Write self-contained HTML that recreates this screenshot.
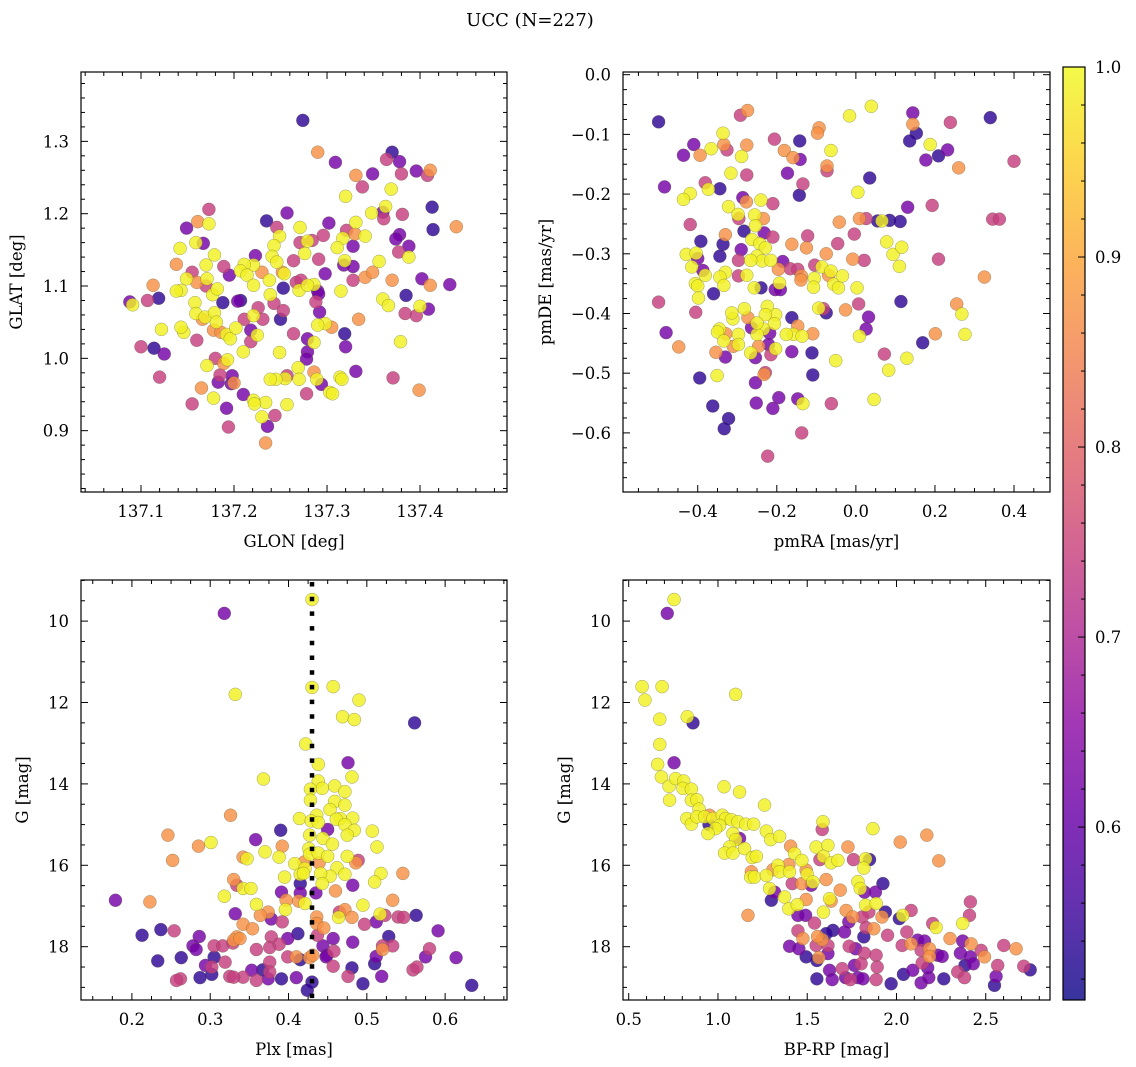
<!DOCTYPE html>
<html><head><meta charset="utf-8">
<style>
html,body{margin:0;padding:0;background:#fff;}
svg{display:block;font-family:"DejaVu Serif","Liberation Serif",serif;}
</style></head>
<body>
<svg id="fig" width="1136" height="1067" viewBox="0 0 1136 1067" xmlns="http://www.w3.org/2000/svg">
<text x="530" y="26" font-size="18" text-anchor="middle">UCC (N=227)</text>
</svg>
<script>
// ---- Panel 1: GLON vs GLAT ----
const p1Glon = [137.274,137.290,137.370,137.364,137.378,137.309,137.396,137.411,137.408,137.380,
137.349,137.331,137.338,137.369,137.320,137.363,137.360,137.361,137.348,137.381,
137.413,137.414,137.439,137.257,137.235,137.246,137.271,137.302,137.321,137.331,
137.330,137.341,137.317,137.378,137.374,137.388,137.377,137.388,137.328,137.311,
137.319,137.356,137.318,137.328,137.298,137.291,137.296,137.284,137.279,137.276,
137.271,137.264,137.252,137.254,137.249,137.243,137.241,137.246,137.223,137.221,
137.230,137.211,137.207,137.214,137.221,137.238,137.253,137.267,137.270,137.286,
137.290,137.315,137.328,137.341,137.349,137.370,137.402,137.411,137.432,137.385,
137.360,137.366,137.400,137.409,137.396,137.384,137.379,137.371,137.399,137.331,
137.314,137.316,137.319,137.320,137.334,137.305,137.298,137.290,137.292,137.288,
137.291,137.279,137.272,137.239,137.243,137.253,137.250,137.231,137.226,137.221,
137.207,137.204,137.188,137.195,137.189,137.179,137.170,137.167,137.159,137.149,
137.161,137.173,137.173,137.142,137.138,137.155,137.149,137.160,137.171,137.177,
137.182,137.170,137.143,137.138,137.113,137.119,137.107,137.088,137.091,137.158,
137.159,137.166,137.169,137.179,137.181,137.178,137.186,137.192,137.196,137.202,
137.211,137.218,137.218,137.225,137.210,137.249,137.264,137.279,137.286,137.279,
137.278,137.269,137.286,137.289,137.294,137.303,137.306,137.278,137.270,137.257,
137.255,137.245,137.239,137.257,137.234,137.221,137.222,137.210,137.200,137.197,
137.198,137.185,137.183,137.180,137.193,137.189,137.171,137.160,137.146,137.143,
137.122,137.100,137.114,137.125,137.120,137.165,137.178,137.155,137.192,137.194,
137.230,137.236,137.244,137.234];
const p1Glat = [1.329,1.285,1.285,1.275,1.272,1.271,1.259,1.260,1.253,1.255,
1.255,1.253,1.237,1.234,1.224,1.210,1.202,1.193,1.201,1.199,
1.209,1.178,1.182,1.201,1.190,1.181,1.181,1.187,1.177,1.188,
1.172,1.169,1.166,1.171,1.165,1.155,1.147,1.140,1.155,1.153,
1.135,1.134,1.129,1.127,1.117,1.137,1.170,1.163,1.162,1.145,
1.160,1.135,1.119,1.117,1.169,1.156,1.141,1.133,1.142,1.129,
1.119,1.130,1.121,1.115,1.101,1.108,1.097,1.105,1.094,1.102,
1.093,1.093,1.108,1.112,1.119,1.108,1.110,1.101,1.102,1.087,
1.082,1.073,1.072,1.068,1.059,1.062,1.023,0.973,0.956,0.982,
0.974,0.971,1.034,1.016,1.054,1.043,1.048,1.046,1.064,1.078,
1.089,1.101,1.108,1.088,1.076,1.066,1.054,1.054,1.070,1.059,
1.080,1.079,1.077,1.115,1.127,1.143,1.129,1.159,1.160,1.180,
1.189,1.186,1.206,1.152,1.130,1.119,1.110,1.105,1.110,1.088,
1.096,1.100,1.094,1.093,1.101,1.083,1.080,1.078,1.074,1.077,
1.062,1.054,1.057,1.063,1.050,1.039,1.036,1.033,1.027,1.042,
1.054,1.039,1.023,1.032,1.009,1.008,1.034,1.027,1.022,1.009,
0.999,0.987,0.981,0.971,0.964,0.953,0.951,0.951,0.971,0.976,
0.972,0.971,0.971,0.936,0.939,0.942,0.937,0.950,0.966,0.965,
0.976,0.977,0.967,1.000,0.998,0.993,0.990,1.025,1.036,1.043,
1.040,1.016,1.014,1.006,0.974,0.959,0.945,0.937,0.931,0.905,
0.919,0.906,0.921,0.883];
const p1Prob = [0.54,0.87,0.54,0.74,0.62,0.62,0.62,0.87,0.74,0.74,
0.62,0.87,0.74,0.99,0.99,0.99,0.62,0.74,0.99,0.74,
0.54,0.54,0.87,0.62,0.54,0.74,0.99,0.62,0.74,0.99,
0.87,0.99,0.99,0.62,0.62,0.62,0.74,0.99,0.62,0.99,
0.99,0.99,0.62,0.62,0.62,0.74,0.74,0.74,0.99,0.99,
0.74,0.74,0.87,0.99,0.99,0.99,0.99,0.99,0.62,0.99,
0.87,0.99,0.99,0.99,0.99,0.99,0.54,0.74,0.99,0.99,
0.62,0.99,0.74,0.87,0.87,0.87,0.62,0.87,0.62,0.54,
0.99,0.99,0.99,0.62,0.74,0.74,0.99,0.74,0.87,0.62,
0.99,0.99,0.54,0.62,0.87,0.87,0.99,0.99,0.62,0.74,
0.62,0.99,0.74,0.99,0.74,0.74,0.54,0.74,0.74,0.99,
0.54,0.62,0.54,0.62,0.74,0.99,0.99,0.62,0.99,0.62,
0.87,0.99,0.74,0.99,0.87,0.74,0.99,0.87,0.99,0.99,
0.99,0.74,0.99,0.99,0.87,0.54,0.74,0.62,0.99,0.99,
0.99,0.87,0.99,0.99,0.99,0.87,0.87,0.99,0.99,0.99,
0.74,0.62,0.74,0.99,0.99,0.99,0.74,0.62,0.99,0.62,
0.62,0.99,0.87,0.99,0.62,0.99,0.99,0.74,0.99,0.74,
0.99,0.99,0.99,0.99,0.99,0.99,0.99,0.62,0.87,0.62,
0.62,0.74,0.62,0.74,0.99,0.87,0.99,0.74,0.99,0.99,
0.99,0.74,0.54,0.62,0.74,0.87,0.99,0.74,0.62,0.74,
0.99,0.62,0.74,0.87];

// ---- Panel 2: pmRA vs pmDE ----
const p2PmRA = [-0.499,-0.292,-0.274,0.039,-0.016,0.144,0.340,0.239,0.144,0.153,
0.136,0.188,0.209,0.232,0.177,0.260,0.400,0.035,0.005,-0.093,
-0.097,-0.063,-0.142,-0.206,-0.181,-0.159,-0.141,-0.073,-0.073,-0.173,
-0.134,-0.143,-0.210,-0.336,-0.334,-0.326,-0.276,-0.289,-0.366,-0.394,
-0.410,-0.436,-0.316,-0.276,-0.381,-0.373,-0.344,-0.484,-0.419,-0.436,
-0.286,-0.277,-0.240,-0.322,-0.298,-0.296,-0.256,-0.234,-0.254,-0.419,
-0.283,-0.232,-0.210,-0.330,-0.392,-0.336,-0.290,-0.263,-0.243,-0.229,
-0.250,-0.237,-0.215,-0.266,-0.297,-0.344,-0.429,-0.404,-0.400,-0.415,
-0.387,-0.381,-0.330,-0.344,-0.297,-0.276,-0.334,-0.406,-0.400,-0.398,
-0.360,-0.499,-0.405,-0.257,-0.240,-0.204,-0.191,-0.193,-0.185,-0.196,
-0.166,-0.147,-0.138,-0.139,-0.162,-0.122,-0.125,-0.104,-0.105,-0.107,
-0.086,-0.075,-0.069,-0.063,-0.056,-0.044,-0.034,-0.046,-0.042,-0.004,
-0.008,0.021,0.009,0.026,0.055,0.066,0.085,0.112,0.131,0.193,
0.346,0.363,0.078,0.094,0.116,0.110,0.209,0.325,0.003,0.007,
0.114,0.255,0.268,0.276,0.201,0.169,0.072,0.129,0.083,0.032,
0.026,0.009,-0.026,-0.075,-0.082,-0.094,-0.109,-0.111,-0.109,-0.051,
-0.062,0.046,-0.162,-0.147,-0.158,-0.176,-0.136,-0.162,-0.203,-0.206,
-0.224,-0.229,-0.218,-0.221,-0.203,-0.215,-0.234,-0.250,-0.250,-0.264,
-0.282,-0.273,-0.311,-0.314,-0.345,-0.329,-0.350,-0.297,-0.334,-0.310,
-0.297,-0.246,-0.266,-0.254,-0.354,-0.330,-0.480,-0.448,-0.395,-0.351,
-0.229,-0.232,-0.254,-0.362,-0.322,-0.333,-0.252,-0.210,-0.195,-0.147,
-0.134,-0.137,-0.223];
const p2PmDE = [-0.079,-0.068,-0.060,-0.053,-0.069,-0.064,-0.072,-0.080,-0.083,-0.098,
-0.111,-0.117,-0.136,-0.126,-0.143,-0.156,-0.145,-0.173,-0.197,-0.089,
-0.098,-0.127,-0.111,-0.108,-0.127,-0.139,-0.142,-0.153,-0.161,-0.165,
-0.183,-0.202,-0.216,-0.098,-0.117,-0.126,-0.118,-0.137,-0.124,-0.135,
-0.117,-0.135,-0.165,-0.168,-0.181,-0.192,-0.191,-0.188,-0.199,-0.209,
-0.206,-0.213,-0.210,-0.221,-0.234,-0.241,-0.235,-0.241,-0.253,-0.251,
-0.262,-0.265,-0.272,-0.268,-0.279,-0.284,-0.293,-0.276,-0.283,-0.290,
-0.304,-0.312,-0.311,-0.311,-0.311,-0.304,-0.301,-0.299,-0.308,-0.322,
-0.328,-0.336,-0.331,-0.339,-0.337,-0.336,-0.353,-0.350,-0.354,-0.374,
-0.367,-0.381,-0.398,-0.357,-0.357,-0.360,-0.360,-0.349,-0.313,-0.326,
-0.325,-0.326,-0.337,-0.344,-0.284,-0.270,-0.290,-0.319,-0.341,-0.356,
-0.322,-0.300,-0.336,-0.329,-0.351,-0.357,-0.337,-0.283,-0.247,-0.267,
-0.309,-0.311,-0.241,-0.241,-0.245,-0.245,-0.244,-0.246,-0.222,-0.219,
-0.242,-0.242,-0.280,-0.301,-0.289,-0.321,-0.309,-0.339,-0.357,-0.384,
-0.380,-0.384,-0.401,-0.435,-0.434,-0.449,-0.468,-0.475,-0.495,-0.406,
-0.426,-0.438,-0.394,-0.399,-0.392,-0.391,-0.434,-0.466,-0.503,-0.479,
-0.551,-0.544,-0.407,-0.421,-0.435,-0.435,-0.438,-0.464,-0.402,-0.417,
-0.388,-0.402,-0.433,-0.452,-0.459,-0.469,-0.426,-0.435,-0.416,-0.424,
-0.392,-0.407,-0.409,-0.399,-0.426,-0.434,-0.431,-0.435,-0.446,-0.455,
-0.452,-0.455,-0.466,-0.474,-0.465,-0.473,-0.432,-0.456,-0.508,-0.504,
-0.499,-0.502,-0.516,-0.555,-0.576,-0.593,-0.550,-0.559,-0.541,-0.543,
-0.551,-0.600,-0.639];
const p2Prob = [0.54,0.74,0.87,0.99,0.99,0.62,0.54,0.74,0.87,0.54,
0.54,0.99,0.54,0.62,0.62,0.87,0.74,0.54,0.99,0.87,
0.87,0.99,0.54,0.74,0.87,0.87,0.62,0.87,0.74,0.62,
0.74,0.54,0.74,0.99,0.87,0.74,0.87,0.99,0.99,0.87,
0.62,0.62,0.99,0.74,0.74,0.99,0.54,0.62,0.99,0.99,
0.62,0.87,0.99,0.99,0.99,0.74,0.99,0.87,0.99,0.74,
0.54,0.62,0.74,0.87,0.54,0.54,0.62,0.99,0.99,0.99,
0.99,0.99,0.99,0.99,0.74,0.54,0.99,0.99,0.62,0.99,
0.62,0.99,0.99,0.99,0.74,0.99,0.99,0.99,0.99,0.99,
0.54,0.74,0.74,0.99,0.54,0.62,0.62,0.99,0.62,0.87,
0.74,0.74,0.87,0.87,0.87,0.74,0.87,0.74,0.99,0.99,
0.99,0.87,0.87,0.99,0.99,0.99,0.99,0.74,0.87,0.74,
0.87,0.74,0.87,0.74,0.54,0.99,0.54,0.54,0.62,0.74,
0.74,0.74,0.99,0.99,0.99,0.99,0.74,0.87,0.99,0.74,
0.54,0.87,0.99,0.99,0.87,0.54,0.74,0.99,0.99,0.62,
0.62,0.99,0.87,0.54,0.74,0.99,0.87,0.54,0.54,0.99,
0.74,0.99,0.54,0.87,0.99,0.99,0.99,0.62,0.99,0.99,
0.99,0.99,0.62,0.62,0.99,0.74,0.99,0.99,0.99,0.62,
0.99,0.87,0.99,0.99,0.99,0.87,0.99,0.99,0.99,0.87,
0.99,0.87,0.99,0.62,0.87,0.62,0.62,0.87,0.54,0.99,
0.74,0.87,0.62,0.54,0.54,0.54,0.62,0.62,0.62,0.62,
0.99,0.74,0.74];

// ---- Panel 3: Plx vs G ----
const p3Plx = [0.430,0.318,0.430,0.332,0.457,0.490,0.469,0.484,0.561,0.422,
0.476,0.438,0.481,0.368,0.438,0.443,0.428,0.459,0.472,0.428,
0.459,0.453,0.472,0.436,0.414,0.466,0.461,0.482,0.429,0.438,
0.472,0.484,0.475,0.507,0.450,0.444,0.427,0.456,0.513,0.426,
0.427,0.438,0.450,0.475,0.489,0.486,0.390,0.326,0.358,0.246,
0.285,0.301,0.252,0.342,0.347,0.370,0.392,0.388,0.408,0.420,
0.439,0.421,0.415,0.419,0.462,0.472,0.453,0.441,0.518,0.510,
0.546,0.395,0.330,0.334,0.342,0.352,0.415,0.443,0.482,0.435,
0.415,0.391,0.460,0.318,0.179,0.223,0.397,0.413,0.421,0.359,
0.495,0.533,0.374,0.364,0.396,0.332,0.436,0.472,0.465,0.464,
0.481,0.517,0.523,0.540,0.547,0.563,0.378,0.392,0.436,0.445,
0.512,0.497,0.342,0.354,0.213,0.237,0.254,0.286,0.334,0.330,
0.338,0.378,0.399,0.412,0.437,0.457,0.482,0.528,0.591,0.278,
0.282,0.305,0.316,0.329,0.359,0.376,0.388,0.444,0.458,0.449,
0.520,0.520,0.533,0.580,0.614,0.575,0.512,0.510,0.233,0.263,
0.305,0.294,0.302,0.319,0.376,0.399,0.410,0.415,0.427,0.431,
0.448,0.457,0.481,0.559,0.564,0.519,0.476,0.495,0.634,0.430,
0.424,0.410,0.391,0.374,0.359,0.353,0.367,0.376,0.342,0.325,
0.330,0.302,0.287,0.262,0.257];
const p3G = [9.47,9.81,11.63,11.80,11.61,11.94,12.35,12.42,12.50,13.02,
13.48,13.52,13.83,13.88,13.93,14.11,14.13,14.05,14.19,14.40,
14.43,14.63,14.52,14.77,14.85,14.85,14.87,14.84,14.91,14.95,
15.00,15.14,15.26,15.16,15.12,15.34,15.26,15.48,15.55,15.59,
15.73,15.70,15.78,15.78,15.88,15.94,15.14,14.77,15.37,15.26,
15.53,15.44,15.88,15.80,15.84,15.67,15.53,15.80,15.96,15.92,
15.94,16.08,16.22,16.20,16.06,16.22,16.27,16.20,16.20,16.41,
16.20,16.29,16.35,16.49,16.57,16.57,16.45,16.45,16.49,16.68,
16.68,16.66,16.63,16.76,16.86,16.90,16.86,16.88,16.94,16.96,
16.98,16.86,17.15,17.23,17.09,17.19,17.27,17.09,17.15,17.28,
17.28,17.20,17.23,17.27,17.28,17.23,17.32,17.39,17.43,17.54,
17.39,17.45,17.45,17.56,17.72,17.58,17.61,17.75,17.76,17.84,
17.80,17.76,17.80,17.68,17.72,17.80,17.89,17.75,17.61,17.98,
18.07,17.98,17.98,17.91,18.07,18.02,17.94,17.98,18.11,18.21,
18.07,17.98,17.98,18.05,18.27,18.25,18.24,18.42,18.35,18.27,
18.26,18.46,18.50,18.38,18.38,18.25,18.25,18.32,18.27,18.21,
18.25,18.48,18.52,18.57,18.50,18.73,18.73,18.91,18.95,18.87,
19.07,18.76,18.79,18.79,18.83,18.58,18.57,18.62,18.75,18.73,
18.75,18.68,18.76,18.79,18.83];
const p3Prob = [0.99,0.62,0.99,0.99,0.99,0.99,0.99,0.99,0.54,0.99,
0.62,0.99,0.99,0.99,0.99,0.99,0.99,0.99,0.99,0.99,
0.99,0.99,0.99,0.99,0.99,0.99,0.99,0.99,0.99,0.99,
0.99,0.99,0.99,0.99,0.62,0.99,0.99,0.99,0.99,0.99,
0.99,0.99,0.99,0.99,0.74,0.87,0.54,0.87,0.62,0.87,
0.87,0.99,0.87,0.87,0.99,0.99,0.87,0.99,0.99,0.87,
0.87,0.99,0.99,0.99,0.99,0.99,0.99,0.99,0.99,0.99,
0.87,0.99,0.87,0.74,0.99,0.99,0.54,0.99,0.62,0.62,
0.62,0.62,0.87,0.99,0.62,0.87,0.87,0.87,0.99,0.99,
0.99,0.87,0.87,0.87,0.99,0.62,0.87,0.87,0.74,0.99,
0.87,0.99,0.74,0.74,0.74,0.54,0.62,0.74,0.87,0.87,
0.62,0.74,0.87,0.87,0.54,0.54,0.74,0.62,0.87,0.87,
0.87,0.74,0.62,0.54,0.74,0.62,0.62,0.54,0.62,0.62,
0.62,0.74,0.74,0.74,0.74,0.74,0.74,0.62,0.74,0.62,
0.87,0.74,0.74,0.74,0.62,0.62,0.62,0.54,0.54,0.54,
0.54,0.62,0.74,0.74,0.74,0.74,0.87,0.54,0.87,0.87,
0.62,0.74,0.54,0.74,0.74,0.62,0.74,0.54,0.54,0.54,
0.54,0.62,0.54,0.62,0.74,0.62,0.54,0.74,0.74,0.74,
0.74,0.54,0.54,0.74,0.74];
const p3PlxLine = [0.430];

// ---- Panel 4: BP-RP vs G ----
const p4BpRp = [0.754,0.716,0.575,0.687,0.591,1.099,0.674,0.828,0.860,0.674,
0.754,0.662,0.683,0.726,0.763,0.808,0.804,0.851,1.034,1.121,
0.729,0.851,0.882,0.894,1.261,0.826,0.851,0.882,0.925,0.953,
0.950,0.972,1.024,1.043,1.009,0.987,0.944,1.075,1.112,1.155,
1.200,1.084,1.121,1.099,1.065,1.037,1.084,1.149,1.192,1.215,
1.271,1.295,1.345,1.407,1.429,1.397,1.470,1.336,1.308,1.345,
1.401,1.494,1.187,1.183,1.205,1.271,1.500,1.532,1.416,1.470,
1.522,1.289,1.317,1.299,1.373,1.397,1.444,1.448,1.494,1.591,
1.491,1.541,1.168,1.584,1.588,1.550,1.616,1.571,1.591,1.634,
1.672,1.728,1.759,1.849,1.827,1.817,1.868,2.021,2.170,2.237,
1.606,1.784,1.797,1.821,1.882,1.924,1.685,1.625,1.634,1.718,
1.827,1.886,1.845,1.938,1.919,2.016,2.035,2.082,1.755,1.808,
1.733,1.644,1.606,1.584,1.558,1.448,1.476,1.401,1.453,1.494,
1.550,1.616,1.616,1.565,1.554,1.709,1.817,1.873,1.830,1.950,
1.735,1.771,1.821,1.886,1.765,1.802,1.696,1.625,1.554,1.640,
1.715,1.741,1.784,1.812,1.892,1.886,1.970,2.039,2.091,2.138,
2.181,2.175,2.144,2.058,2.032,2.082,2.119,2.157,2.138,2.185,
2.185,2.231,2.256,2.203,2.222,2.265,2.300,2.371,2.409,2.414,
2.371,2.418,2.474,2.493,2.358,2.414,2.384,2.430,2.343,2.381,
2.567,2.558,2.549,2.601,2.670,2.713,2.749];
const p4G = [9.47,9.81,11.61,11.61,11.94,11.80,12.41,12.35,12.50,13.03,
13.48,13.52,13.83,14.06,13.87,13.93,14.11,14.13,14.07,14.20,
14.40,14.40,14.39,14.62,14.52,14.85,14.99,14.81,14.81,14.77,
15.00,14.85,14.77,14.85,15.02,15.10,15.22,14.88,14.93,14.99,
14.99,15.22,15.34,15.37,15.55,15.70,15.70,15.59,15.81,15.78,
15.16,15.37,15.29,15.53,15.71,15.98,15.88,16.00,16.11,16.16,
16.16,16.12,16.16,16.29,16.29,16.25,16.22,16.41,16.45,16.45,
16.49,16.57,16.66,16.86,16.78,17.07,16.97,17.23,16.84,17.15,
17.23,17.42,17.23,15.12,14.93,15.55,15.51,15.86,15.78,15.94,
15.88,15.55,15.86,15.86,15.84,16.07,15.10,15.43,15.26,15.89,
16.35,16.40,16.57,16.66,16.66,16.45,16.61,16.82,16.88,17.11,
16.98,16.94,17.15,17.15,17.27,17.31,17.23,17.11,17.27,17.27,
17.39,17.60,17.68,17.83,17.75,17.61,17.80,17.99,18.05,18.25,
17.97,17.97,18.17,18.27,18.34,17.64,17.76,17.56,17.53,17.72,
17.99,18.05,18.16,18.21,18.46,18.42,18.54,18.58,18.79,18.81,
18.76,18.81,18.76,18.79,18.50,18.81,18.91,18.68,18.58,18.89,
18.76,18.52,18.40,17.64,17.97,17.93,17.84,17.86,18.09,18.05,
18.24,18.21,18.24,17.43,17.53,18.79,17.80,17.43,17.23,16.90,
17.86,17.93,18.09,18.25,18.16,18.25,18.46,18.42,18.62,18.76,
18.46,18.73,18.95,17.97,18.05,18.48,18.57];
const p4Prob = [0.99,0.62,0.99,0.99,0.99,0.99,0.99,0.99,0.54,0.99,
0.62,0.99,0.99,0.99,0.99,0.99,0.99,0.99,0.99,0.99,
0.99,0.99,0.99,0.99,0.99,0.99,0.99,0.99,0.99,0.87,
0.54,0.99,0.99,0.99,0.99,0.99,0.99,0.99,0.99,0.99,
0.99,0.99,0.62,0.99,0.99,0.99,0.99,0.99,0.99,0.99,
0.99,0.99,0.99,0.87,0.99,0.87,0.99,0.99,0.87,0.99,
0.99,0.87,0.87,0.99,0.99,0.99,0.99,0.99,0.74,0.87,
0.62,0.99,0.62,0.54,0.99,0.99,0.99,0.62,0.87,0.99,
0.62,0.74,0.87,0.74,0.99,0.99,0.99,0.74,0.99,0.99,
0.99,0.87,0.74,0.54,0.99,0.99,0.99,0.87,0.87,0.87,
0.87,0.99,0.99,0.62,0.62,0.54,0.87,0.99,0.87,0.87,
0.99,0.99,0.74,0.54,0.87,0.54,0.99,0.74,0.87,0.74,
0.62,0.54,0.54,0.87,0.87,0.74,0.87,0.62,0.62,0.54,
0.74,0.74,0.62,0.87,0.54,0.62,0.54,0.87,0.74,0.74,
0.74,0.62,0.74,0.74,0.62,0.74,0.74,0.62,0.54,0.62,
0.62,0.74,0.62,0.62,0.74,0.74,0.54,0.54,0.62,0.62,
0.62,0.62,0.74,0.74,0.74,0.87,0.62,0.62,0.74,0.87,
0.87,0.62,0.62,0.74,0.99,0.54,0.87,0.99,0.74,0.74,
0.62,0.87,0.74,0.87,0.62,0.62,0.54,0.62,0.74,0.74,
0.74,0.62,0.54,0.74,0.87,0.74,0.54];

// ---- colorbar ticks ----
const cbarTicks = [0.6,0.7,0.8,0.9,1.0];
const cbarMin = 0.509, cbarMax = 1.0;

// ---- tick label arrays ----
const p1XTicks = [137.1,137.2,137.3,137.4];
const p1YTicks = [0.9,1.0,1.1,1.2,1.3];
const p2XTicks = [-0.4,-0.2,0.0,0.2,0.4];
const p2YTicks = [-0.6,-0.5,-0.4,-0.3,-0.2,-0.1,0.0];
const p3XTicks = [0.2,0.3,0.4,0.5,0.6];
const gTicks = [10,12,14,16,18];
const p4XTicks = [0.5,1.0,1.5,2.0,2.5];

const NS = "http://www.w3.org/2000/svg";
const svg = document.getElementById('fig');
const FS = 16.5;
function mk(tag, attrs, parent){
  const e = document.createElementNS(NS, tag);
  for (const k in attrs) e.setAttribute(k, attrs[k]);
  (parent||svg).appendChild(e);
  return e;
}
const plasmaStops = ["#0d0887","#41049d","#6a00a8","#8f0da4","#b12a90","#cc4778","#e16462","#f2844b","#fca636","#fcce25","#f0f921"];
function hex2rgb(h){return [parseInt(h.substr(1,2),16),parseInt(h.substr(3,2),16),parseInt(h.substr(5,2),16)];}
function plasma(t){
  t = Math.max(0, Math.min(1, t));
  const s = t*10, i = Math.min(9, Math.floor(s)), f = s - i;
  const a = hex2rgb(plasmaStops[i]), b = hex2rgb(plasmaStops[i+1]);
  return 'rgb(' + a.map((v,k)=>Math.round(v+(b[k]-v)*f)).join(',') + ')';
}
function probColor(p){ return plasma((p - cbarMin)/(cbarMax - cbarMin)); }
function fmt(v, d){ const s = Math.abs(v).toFixed(d); return (v < -1e-9 ? '\u2212' : '') + s; }

function panel(cfg){
  const g = mk('g', {});
  
  
  const sx = v => cfg.x0 + (v - cfg.xmin)/(cfg.xmax - cfg.xmin)*(cfg.x1 - cfg.x0);
  const sy = v => cfg.y1 - (v - cfg.ymin)/(cfg.ymax - cfg.ymin)*(cfg.y1 - cfg.y0);
  const tg = mk('g', {stroke:'#000','stroke-width':1}, g);
  
  
  const lo = Math.min(cfg.xmin, cfg.xmax), hi = Math.max(cfg.xmin, cfg.xmax);
  for (let k = Math.ceil(lo/cfg.xminor - 1e-6); k*cfg.xminor <= hi + 1e-9; k++){
    const v = k*cfg.xminor, px = sx(v);
    const major = Math.abs(v/cfg.xmajor - Math.round(v/cfg.xmajor)) < 1e-6;
    const L = major ? 7 : 4;
    mk('line', {x1:px, x2:px, y1:cfg.y1, y2:cfg.y1-L}, tg);
    mk('line', {x1:px, x2:px, y1:cfg.y0, y2:cfg.y0+L}, tg);
  }
  const ylo = Math.min(cfg.ymin, cfg.ymax), yhi = Math.max(cfg.ymin, cfg.ymax);
  for (let k = Math.ceil(ylo/cfg.yminor - 1e-6); k*cfg.yminor <= yhi + 1e-9; k++){
    const v = k*cfg.yminor, py = sy(v);
    const major = Math.abs(v/cfg.ymajor - Math.round(v/cfg.ymajor)) < 1e-6;
    const L = major ? 7 : 4;
    mk('line', {x1:cfg.x0, x2:cfg.x0+L, y1:py, y2:py}, tg);
    mk('line', {x1:cfg.x1, x2:cfg.x1-L, y1:py, y2:py}, tg);
  }
  cfg.xticks.forEach(v => {
    const t = mk('text', {x:sx(v), y:cfg.y1+25, 'font-size':FS, 'text-anchor':'middle'}, g);
    
    
    t.textContent = fmt(v, cfg.xdec);
  });
  cfg.yticks.forEach(v => {
    const t = mk('text', {x:cfg.x0-12, y:sy(v)+6, 'font-size':FS, 'text-anchor':'end'}, g);
    
    
    t.textContent = fmt(v, cfg.ydec);
  });
  const xl = mk('text', {x:(cfg.x0+cfg.x1)/2, y:cfg.y1+55, 'font-size':FS, 'text-anchor':'middle'}, g);
  
  
  xl.textContent = cfg.xlabel;
  const yx = cfg.ylabelX, yy = (cfg.y0+cfg.y1)/2;
  const yl = mk('text', {x:yx, y:yy, 'font-size':FS, 'text-anchor':'middle', transform:'rotate(-90 '+yx+' '+yy+')'}, g);
  
  
  yl.textContent = cfg.ylabel;
  const clipId = cfg.name + '-clip';
  const cp = mk('clipPath', {id:clipId}, g);
  mk('rect', {x:cfg.x0, y:cfg.y0, width:cfg.x1-cfg.x0, height:cfg.y1-cfg.y0}, cp);
  const pg = mk('g', {'clip-path':'url(#'+clipId+')'}, g);
  
  
  const idx = cfg.xs.map((_, i) => i).sort((a, b) => cfg.cs[a] - cfg.cs[b]);
  idx.forEach(i => {
    const c = mk('circle', {cx:sx(cfg.xs[i]), cy:sy(cfg.ys[i]), r:6.5, fill:probColor(cfg.cs[i]), 'fill-opacity':0.82, stroke:'#5a5a3a', 'stroke-opacity':0.55, 'stroke-width':0.5}, pg);
    
    
  });
  if (cfg.vline){
    cfg.vline.forEach(v => {
      const l = mk('line', {x1:sx(v), x2:sx(v), y1:cfg.y0, y2:cfg.y1, stroke:'#000', 'stroke-width':4.5, 'stroke-dasharray':'4.5 10.2', 'stroke-dashoffset':-2}, g);
      
      
    });
  }
  const fr = mk('rect', {x:cfg.x0, y:cfg.y0, width:cfg.x1-cfg.x0, height:cfg.y1-cfg.y0, fill:'none', stroke:'#000', 'stroke-width':1.2}, g);
  
  
}

panel({name:'glon-glat-panel', x0:81, x1:507, y0:72, y1:492, xmin:137.0355, xmax:137.4935, ymin:0.8152, ymax:1.3959,
  xmajor:0.1, xminor:0.02, ymajor:0.1, yminor:0.02, xticks:p1XTicks, yticks:p1YTicks, xdec:1, ydec:1,
  xlabel:'GLON [deg]', ylabel:'GLAT [deg]', ylabelX:22, xs:p1Glon, ys:p1Glat, cs:p1Prob});
panel({name:'pm-panel', x0:623, x1:1050, y0:72, y1:492, xmin:-0.589, xmax:0.491, ymin:-0.699, ymax:0.0045,
  xmajor:0.2, xminor:0.05, ymajor:0.1, yminor:0.025, xticks:p2XTicks, yticks:p2YTicks, xdec:1, ydec:1,
  xlabel:'pmRA [mas/yr]', ylabel:'pmDE [mas/yr]', ylabelX:551, xs:p2PmRA, ys:p2PmDE, cs:p2Prob});
panel({name:'plx-g-panel', x0:81, x1:507, y0:580, y1:1000, xmin:0.135, xmax:0.679, ymin:19.31, ymax:8.99,
  xmajor:0.1, xminor:0.025, ymajor:2, yminor:0.5, xticks:p3XTicks, yticks:gTicks, xdec:1, ydec:0,
  xlabel:'Plx [mas]', ylabel:'G [mag]', ylabelX:28, xs:p3Plx, ys:p3G, cs:p3Prob, vline:p3PlxLine});
panel({name:'cmd-panel', x0:623, x1:1050, y0:580, y1:1000, xmin:0.468, xmax:2.860, ymin:19.31, ymax:8.99,
  xmajor:0.5, xminor:0.1, ymajor:2, yminor:0.5, xticks:p4XTicks, yticks:gTicks, xdec:1, ydec:0,
  xlabel:'BP-RP [mag]', ylabel:'G [mag]', ylabelX:570, xs:p4BpRp, ys:p4G, cs:p4Prob});

(function(){
  const x0 = 1063, x1 = 1085, y0 = 67, y1 = 1000;
  const g = mk('g', {});
  
  
  const defs = mk('defs', {}, g);
  const lg = mk('linearGradient', {id:'cbgrad', x1:0, y1:1, x2:0, y2:0}, defs);
  for (let i = 0; i <= 20; i++){
    mk('stop', {offset:(i/20), 'stop-color':plasma(i/20)}, lg);
  }
  const r = mk('rect', {x:x0, y:y0, width:x1-x0, height:y1-y0, fill:'url(#cbgrad)', 'fill-opacity':0.82}, g);
  
  
  const sy = v => y1 - (v - cbarMin)/(cbarMax - cbarMin)*(y1 - y0);
  for (let k = 26; k <= 50; k++){
    const v = k*0.02; if (v < cbarMin) continue;
    const major = k % 5 === 0;
    mk('line', {x1:x1, x2:x1-(major?7:4), y1:sy(v), y2:sy(v), stroke:'#000', 'stroke-width':1}, g);
  }
  cbarTicks.forEach(v => {
    const t = mk('text', {x:x1+10, y:sy(v)+6, 'font-size':FS}, g);
    
    
    t.textContent = v.toFixed(1);
  });
  mk('rect', {x:x0, y:y0, width:x1-x0, height:y1-y0, fill:'none', stroke:'#000', 'stroke-width':1.2}, g);
})();
</script>
</body></html>
